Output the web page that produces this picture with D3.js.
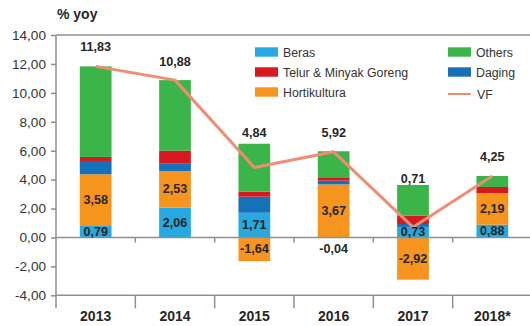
<!DOCTYPE html>
<html>
<head>
<meta charset="utf-8">
<script src="https://cdn.jsdelivr.net/npm/d3@7"></script>
<style>
  html, body { margin: 0; padding: 0; background: #fff; }
  svg { display: block; font-family: "Liberation Sans", Arial, sans-serif; }
</style>
</head>
<body>
<svg id="chart" width="530" height="326"></svg>
<script>
// Contributions to volatile food inflation (% yoy)
const years = ["2013", "2014", "2015", "2016", "2017", "2018*"];
const beras = [0.79, 2.06, 1.71, -0.04, 0.73, 0.88];
const hortikultura = [3.58, 2.53, -1.64, 3.67, -2.92, 2.19];
const daging = [0.92, 0.51, 1.11, 0.26, 0.20, 0.00];
const telur = [0.28, 0.90, 0.35, 0.23, 0.58, 0.42];
const others = [6.26, 4.88, 3.31, 1.80, 2.12, 0.76];
const vf = [11.83, 10.88, 4.84, 5.92, 0.71, 4.25];
const yTicks = [-4, -2, 0, 2, 4, 6, 8, 10, 12, 14];

const series = [
  { key: "beras", name: "Beras", values: beras, color: "#25a9e0" },
  { key: "hortikultura", name: "Hortikultura", values: hortikultura, color: "#f7941d" },
  { key: "daging", name: "Daging", values: daging, color: "#1571b8" },
  { key: "telur", name: "Telur & Minyak Goreng", values: telur, color: "#d7181f" },
  { key: "others", name: "Others", values: others, color: "#3bb44a" }
];
const vfColor = "#ef8c73";
const axisColor = "#8f8f8f";
const textColor = "#262626";

const rows = years.map((yr, i) => {
  const r = { year: yr };
  series.forEach(s => { r[s.key] = s.values[i]; });
  return r;
});

const svg = d3.select("#chart");
const fmt = v => v.toFixed(2).replace(".", ",");

const x = d3.scaleBand().domain(years).range([56, 532]).paddingInner(0.6).paddingOuter(0.3);
const y = d3.scaleLinear().domain([-4, 14]).range([295.3, 35]);

// frame lines: top border, zero line, bottom axis
svg.append("line").attr("x1", 56).attr("x2", 530).attr("y1", y(14)).attr("y2", y(14))
  .attr("stroke", axisColor).attr("stroke-width", 1.5);

// y axis
const yAxis = d3.axisLeft(y).tickValues(yTicks).tickFormat(fmt).tickSize(5).tickPadding(5);
const gy = svg.append("g").attr("transform", "translate(56,0)").call(yAxis);
gy.select(".domain").remove();
gy.selectAll(".tick line").attr("stroke", axisColor).attr("stroke-width", 1.5);
gy.selectAll(".tick text").attr("fill", "#333").style("font-size", "13.6px")
  .style("font-family", "'Liberation Sans', Arial, sans-serif");

// bars
const stack = d3.stack().keys(series.map(s => s.key)).offset(d3.stackOffsetDiverging);
const stacked = stack(rows);

stacked.forEach((layer, li) => {
  svg.append("g").attr("fill", series[li].color)
    .selectAll("rect").data(layer).join("rect")
    .attr("x", d => x(d.data.year))
    .attr("width", x.bandwidth())
    .attr("y", d => y(Math.max(d[0], d[1])))
    .attr("height", d => Math.abs(y(d[0]) - y(d[1])));
});

// zero line and bottom axis line
svg.append("line").attr("x1", 56).attr("x2", 530).attr("y1", y(0)).attr("y2", y(0))
  .attr("stroke", axisColor).attr("stroke-width", 1.5);
svg.append("line").attr("x1", 56).attr("x2", 530).attr("y1", y(-4)).attr("y2", y(-4))
  .attr("stroke", axisColor).attr("stroke-width", 1.5);
svg.append("line").attr("x1", 56).attr("x2", 56).attr("y1", y(14)).attr("y2", y(-4) + 13)
  .attr("stroke", axisColor).attr("stroke-width", 1.5);

// category separators
const half = x.step() * x.paddingInner() / 2;
const seps = years.slice(1).map(yr => x(yr) - half);
svg.append("g").selectAll("line").data(seps).join("line")
  .attr("x1", d => d).attr("x2", d => d).attr("y1", y(0)).attr("y2", y(0) + 5)
  .attr("stroke", axisColor).attr("stroke-width", 1.5);
svg.append("g").selectAll("line").data(seps).join("line")
  .attr("x1", d => d).attr("x2", d => d).attr("y1", y(-4)).attr("y2", y(-4) + 13)
  .attr("stroke", axisColor).attr("stroke-width", 1.5);

// category labels
svg.append("g").selectAll("text").data(years).join("text")
  .attr("x", d => x(d) + x.bandwidth() / 2).attr("y", 316)
  .attr("text-anchor", "middle").attr("dominant-baseline", "central")
  .attr("fill", textColor).style("font-size", "14px").style("font-weight", "bold")
  .text(d => d);

// VF line
const line = d3.line().x((d, i) => x(years[i]) + x.bandwidth() / 2).y(d => y(d));
svg.append("path").datum(vf).attr("d", line).attr("fill", "none")
  .attr("stroke", vfColor).attr("stroke-width", 3).attr("stroke-linejoin", "round");

// segment labels for Beras and Hortikultura
const labelFont = "12.6px";
[0, 1].forEach(li => {
  const layer = stacked[li];
  svg.append("g").selectAll("text").data(layer).join("text")
    .attr("x", d => x(d.data.year) + x.bandwidth() / 2)
    .attr("y", d => {
      const top = y(Math.max(d[0], d[1])), bot = y(Math.min(d[0], d[1]));
      if (bot - top < 6) return bot + 10.5;
      return (top + bot) / 2;
    })
    .attr("text-anchor", "middle").attr("dominant-baseline", "central")
    .attr("fill", textColor).style("font-size", labelFont).style("font-weight", "bold")
    .text(d => fmt(d.data[series[li].key]));
});

// total labels above each bar
const lift = [19, 18, 11, 18, 6, 19];
const tops = rows.map(r => d3.sum(series, s => Math.max(0, r[s.key])));
svg.append("g").selectAll("text").data(vf).join("text")
  .attr("x", (d, i) => x(years[i]) + x.bandwidth() / 2)
  .attr("y", (d, i) => y(tops[i]) - lift[i])
  .attr("text-anchor", "middle").attr("dominant-baseline", "central")
  .attr("fill", textColor).style("font-size", labelFont).style("font-weight", "bold")
  .text(d => fmt(d));

// axis title
svg.append("text").attr("x", 57).attr("y", 14).attr("dominant-baseline", "central")
  .attr("fill", textColor).style("font-size", "14px").style("font-weight", "bold")
  .text("% yoy");

// legend
const legendItems = [
  { name: "Beras", color: series[0].color, col: 0, row: 0 },
  { name: "Telur & Minyak Goreng", color: series[3].color, col: 0, row: 1 },
  { name: "Hortikultura", color: series[1].color, col: 0, row: 2 },
  { name: "Others", color: series[4].color, col: 1, row: 0 },
  { name: "Daging", color: series[2].color, col: 1, row: 1 },
  { name: "VF", color: vfColor, col: 1, row: 2, line: true }
];
const colX = [255, 448];
const lg = svg.append("g").selectAll("g").data(legendItems).join("g")
  .attr("transform", d => `translate(${colX[d.col]},${52 + d.row * 20})`);
lg.filter(d => !d.line).append("rect").attr("x", 0).attr("y", -4.7).attr("width", 23).attr("height", 9.4)
  .attr("fill", d => d.color);
lg.filter(d => d.line).append("line").attr("x1", 0).attr("x2", 23).attr("y1", 2).attr("y2", 2)
  .attr("stroke", d => d.color).attr("stroke-width", 2);
lg.append("text").attr("x", d => d.line ? 29 : 28).attr("y", d => d.line ? 3 : 0.5)
  .attr("dominant-baseline", "central").attr("fill", "#333").style("font-size", "12.3px")
  .text(d => d.name);
</script>
</body>
</html>
